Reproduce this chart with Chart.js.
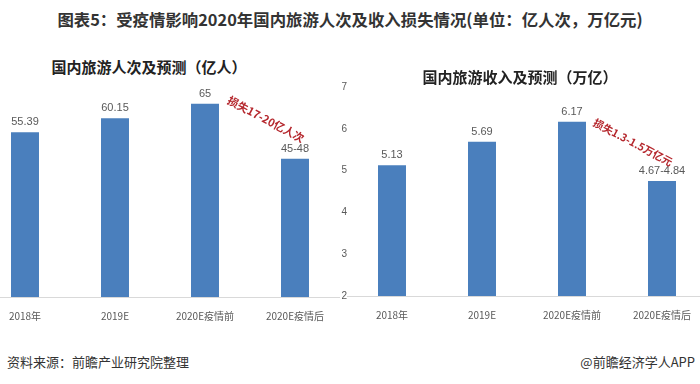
<!DOCTYPE html>
<html><head><meta charset="utf-8">
<script src="https://cdn.jsdelivr.net/npm/chart.js@4"></script>
<style>
html,body{margin:0;padding:0;background:#fff;width:700px;height:384px;overflow:hidden;position:relative;font-family:"Noto Sans CJK SC",sans-serif;}
.box{position:absolute;}
#title{position:absolute;left:0;width:700px;top:8px;text-align:center;font-weight:bold;font-size:16.4px;color:#333;line-height:22px;white-space:nowrap;}
.ct{position:absolute;font-weight:bold;font-size:15px;color:#222;line-height:20px;white-space:nowrap;transform:translateX(-50%);}
#src{position:absolute;left:7px;top:353px;font-size:13px;color:#333;line-height:18px;}
#app{position:absolute;right:5px;top:353px;font-size:13px;color:#333;line-height:18px;}
</style></head>
<body>
<div id="title">图表5：受疫情影响2020年国内旅游人次及收入损失情况(单位：亿人次，万亿元)</div>
<div class="box" style="left:-20px;top:80px;width:360px;height:247px;"><canvas id="c1"></canvas></div>
<div class="box" style="left:321px;top:77px;width:386px;height:249px;"><canvas id="c2"></canvas></div>
<div class="ct" style="left:149px;top:57px;">国内旅游人次及预测（亿人）</div>
<div class="ct" style="left:520px;top:67px;">国内旅游收入及预测（万亿）</div>
<div id="src">资料来源：前瞻产业研究院整理</div>
<div id="app">@前瞻经济学人APP</div>
<script>
const categories = ['2018年', '2019E', '2020E疫情前', '2020E疫情后'];
const visitors = [55.39, 60.15, 65, 46.5];
const visitorLabels = ['55.39', '60.15', '65', '45-48'];
const revenue = [5.13, 5.69, 6.17, 4.75];
const revenueLabels = ['5.13', '5.69', '6.17', '4.67-4.84'];
const revenueTicks = [2, 3, 4, 5, 6, 7];
const visitorsLoss = '损失17-20亿人次';
const revenueLoss = '损失1.3-1.5万亿元';

const BAR = '#4a7fbd';
const GRAY = '#595959';

const valueLabels = {
  id: 'valueLabels',
  afterDatasetsDraw(chart, args, opts) {
    const ctx = chart.ctx;
    const meta = chart.getDatasetMeta(0);
    const data = chart.data.datasets[0].data;
    ctx.save();
    ctx.font = '11px "Liberation Sans", "Noto Sans CJK SC", sans-serif';
    ctx.fillStyle = GRAY;
    ctx.textAlign = 'center';
    ctx.textBaseline = 'middle';
    meta.data.forEach((bar, i) => ctx.fillText(opts.labels[i], bar.x, bar.y - 10));
    const xs = chart.scales.x, ys = chart.scales.y;
    const px = (xs.getPixelForValue(2) + xs.getPixelForValue(3)) / 2 + opts.dx;
    const py = (ys.getPixelForValue(data[2]) + ys.getPixelForValue(data[3])) / 2 + opts.dy;
    ctx.translate(px, py);
    ctx.rotate(opts.angle * Math.PI / 180);
    ctx.font = 'bold ' + opts.size + 'px "Noto Sans CJK SC", sans-serif';
    ctx.fillStyle = '#b5272d';
    ctx.fillText(opts.loss, 0, 0);
    ctx.restore();
  }
};

function xScale() {
  return {
    grid: { display: false },
    border: { display: true, color: '#d9d9d9', width: 1 },
    ticks: { color: GRAY, padding: 5, font: { size: 10, family: '"Noto Sans CJK SC", sans-serif' }, maxRotation: 0, autoSkip: false },
    afterFit(s) { s.height = 30; }
  };
}

new Chart(document.getElementById('c1'), {
  type: 'bar',
  data: { labels: categories, datasets: [{ data: visitors, backgroundColor: BAR, categoryPercentage: 1, barPercentage: 0.311 }] },
  options: {
    responsive: true, maintainAspectRatio: false, animation: false,
    layout: { padding: 0 },
    plugins: { legend: { display: false }, tooltip: { enabled: false },
      valueLabels: { labels: visitorLabels, loss: visitorsLoss, dx: 16, dy: -12, angle: 28, size: 11 } },
    scales: {
      x: xScale(),
      y: { display: false, min: 0, max: 73 }
    }
  },
  plugins: [valueLabels]
});

new Chart(document.getElementById('c2'), {
  type: 'bar',
  data: { labels: categories, datasets: [{ data: revenue, backgroundColor: BAR, categoryPercentage: 1, barPercentage: 0.311 }] },
  options: {
    responsive: true, maintainAspectRatio: false, animation: false,
    layout: { padding: { top: 10, left: 0, right: 0, bottom: 0 } },
    plugins: { legend: { display: false }, tooltip: { enabled: false },
      valueLabels: { labels: revenueLabels, loss: revenueLoss, dx: 16, dy: -9, angle: 28, size: 10.5 } },
    scales: {
      x: xScale(),
      y: {
        min: revenueTicks[0], max: revenueTicks[revenueTicks.length - 1],
        grid: { display: false, drawTicks: false },
        border: { display: false },
        afterBuildTicks(s) { s.ticks = revenueTicks.map(v => ({ value: v })); },
        ticks: { color: GRAY, padding: 0, font: { size: 10, family: '"Liberation Sans", sans-serif' } },
        afterFit(s) { s.width = 26; }
      }
    }
  },
  plugins: [valueLabels]
});
</script>
</body></html>
